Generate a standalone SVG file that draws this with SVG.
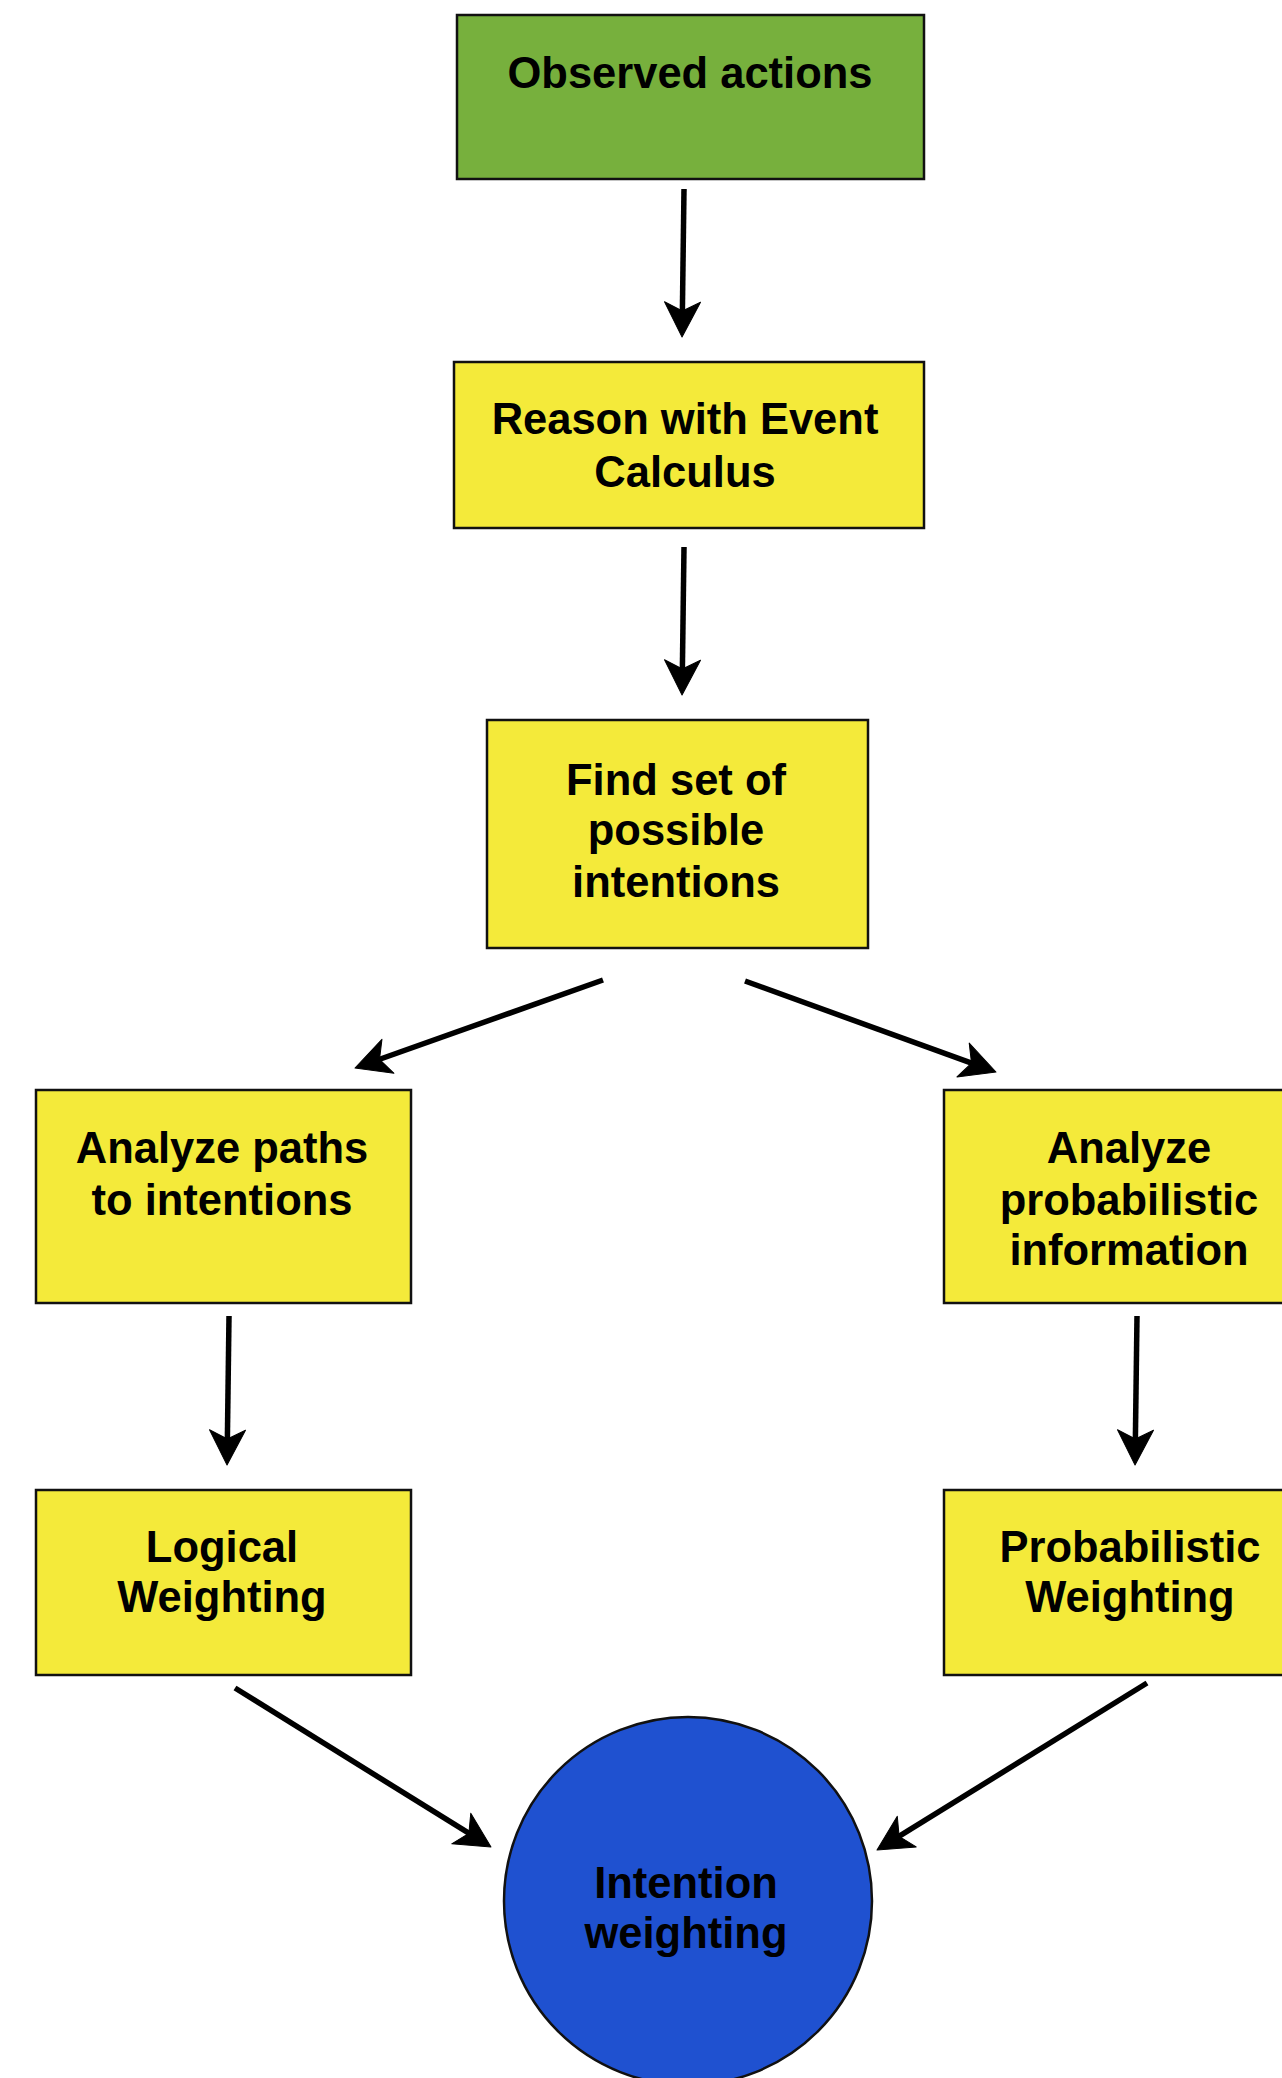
<svg xmlns="http://www.w3.org/2000/svg" width="1282" height="2078" viewBox="0 0 1282 2078">
<style>
.box{stroke:#111;stroke-width:2.5}
.g{fill:#77B03D}
.y{fill:#F4EA3A}
.b{fill:#1F51D0}
text{font-family:"Liberation Sans",Arial,Helvetica,sans-serif;font-weight:bold;font-size:43.5px;fill:#000;text-anchor:middle}
.c line{stroke:#000;stroke-width:5.5;marker-end:url(#ah)}
</style>
<defs>
<marker id="ah" markerUnits="userSpaceOnUse" markerWidth="40" markerHeight="40" viewBox="-37 -20 40 40" refX="-12" refY="0" orient="auto">
<path d="M0,0 L-35,-18 L-26,0 L-35,18 Z" fill="#000" stroke="#000" stroke-width="1" stroke-linejoin="round"/>
</marker>
</defs>
<rect width="1282" height="2078" fill="#fff"/>
<g class="c" id="connectors">
<line x1="684" y1="189" x2="682.2" y2="325"/>
<line x1="684" y1="547" x2="682.2" y2="683"/>
<line x1="603" y1="980" x2="366.3" y2="1064"/>
<line x1="745" y1="981" x2="984.7" y2="1067.9"/>
<line x1="229" y1="1316" x2="227.2" y2="1453"/>
<line x1="1137" y1="1316" x2="1135.2" y2="1453"/>
<line x1="235" y1="1688" x2="480.8" y2="1840.7"/>
<line x1="1147" y1="1683" x2="887.2" y2="1843.7"/>
</g>
<g id="observed">
<rect class="box g" x="457" y="15" width="467" height="164"/>
<text x="690" y="88">Observed actions</text>
</g>
<g id="reason">
<rect class="box y" x="454" y="362" width="470" height="166"/>
<text x="685" y="434">Reason with Event</text>
<text x="685" y="487">Calculus</text>
</g>
<g id="find">
<rect class="box y" x="487" y="720" width="381" height="228"/>
<text x="676" y="795">Find set of</text>
<text x="676" y="845">possible</text>
<text x="676" y="897">intentions</text>
</g>
<g id="paths">
<rect class="box y" x="36" y="1090" width="375" height="213"/>
<text x="222" y="1163">Analyze paths</text>
<text x="222" y="1215">to intentions</text>
</g>
<g id="prob">
<rect class="box y" x="944" y="1090" width="376" height="213"/>
<text x="1129" y="1163">Analyze</text>
<text x="1129" y="1215">probabilistic</text>
<text x="1129" y="1265">information</text>
</g>
<g id="logical">
<rect class="box y" x="36" y="1490" width="375" height="185"/>
<text x="222" y="1562">Logical</text>
<text x="222" y="1612">Weighting</text>
</g>
<g id="probw">
<rect class="box y" x="944" y="1490" width="376" height="185"/>
<text x="1130" y="1562">Probabilistic</text>
<text x="1130" y="1612">Weighting</text>
</g>
<g id="intention">
<circle class="box b" cx="688" cy="1901" r="184"/>
<text x="686" y="1898">Intention</text>
<text x="686" y="1948">weighting</text>
</g>
</svg>
